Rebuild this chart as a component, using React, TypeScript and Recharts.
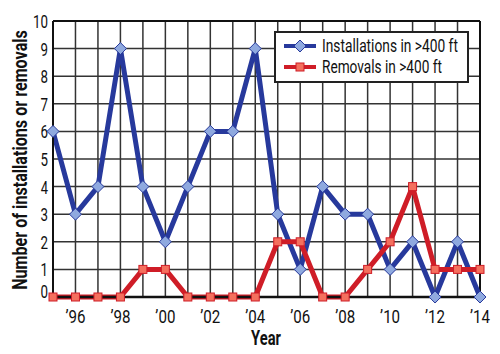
import { useLayoutEffect, useRef, useState } from "react";
import { LineChart, Line, XAxis, YAxis, CartesianGrid, ReferenceLine } from "recharts";

const years = [1995, 1996, 1997, 1998, 1999, 2000, 2001, 2002, 2003, 2004, 2005, 2006, 2007, 2008, 2009, 2010, 2011, 2012, 2013, 2014];
const installations = [6, 3, 4, 9, 4, 2, 4, 6, 6, 9, 3, 1, 4, 3, 3, 1, 2, 0, 2, 0];
const removals = [0, 0, 0, 0, 1, 1, 0, 0, 0, 0, 2, 2, 0, 0, 1, 2, 4, 1, 1, 1];
const yTicks = [0, 1, 2, 3, 4, 5, 6, 7, 8, 9, 10];

const data = years.map((y, i) => ({ year: y, inst: installations[i], rem: removals[i] }));

const FONT = "Roboto, 'Noto Sans', sans-serif";
const BLUE = "#27399c";
const BLUE_FILL = "#8fa9df";
const RED = "#cf1d27";
const RED_FILL = "#f4705e";

// no condensed face installed: measure the text and squeeze it horizontally to the given width
function Squeeze({ x, y, width, anchor = "start", rotate = 0, children, ...rest }: any) {
  const ref = useRef<SVGTextElement>(null);
  const [k, setK] = useState(1);
  useLayoutEffect(() => {
    const w = ref.current?.getBBox().width;
    if (w) setK(width / w);
  }, [width, children]);
  return (
    <g transform={`translate(${x},${y}) rotate(${rotate}) scale(${k},1)`}>
      <text ref={ref} x={0} y={0} textAnchor={anchor} fontFamily={FONT} fill="#111" {...rest}>
        {children}
      </text>
    </g>
  );
}

function Diamond({ cx, cy, size = 6 }: any) {
  if (cx == null || cy == null) return null;
  const s = size;
  return (
    <path
      d={`M${cx},${cy - s} L${cx + s},${cy} L${cx},${cy + s} L${cx - s},${cy} Z`}
      fill={BLUE_FILL}
      stroke={BLUE}
      strokeWidth={1}
    />
  );
}

function Square({ cx, cy, size = 4 }: any) {
  if (cx == null || cy == null) return null;
  return (
    <rect x={cx - size} y={cy - size} width={size * 2} height={size * 2} fill={RED_FILL} stroke={RED} strokeWidth={1} />
  );
}

function LegendBox() {
  return (
    <svg width={196} height={53} style={{ display: "block" }}>
      <rect x={1} y={1} width={193} height={50} fill="#fff" stroke="#222" strokeWidth={2} />
      <line x1={10} y1={15} x2={42} y2={15} stroke={BLUE} strokeWidth={4} />
      <Diamond cx={26} cy={15} size={6} />
      <Squeeze x={48} y={20.5} width={136} fontSize={18.5}>
        Installations in &gt;400 ft
      </Squeeze>
      <line x1={10} y1={36} x2={42} y2={36} stroke={RED} strokeWidth={4} />
      <Square cx={26} cy={36} size={4} />
      <Squeeze x={48} y={42} width={120} fontSize={18.5}>
        Removals in &gt;400 ft
      </Squeeze>
    </svg>
  );
}

function XTick({ x, payload }: any) {
  const v = payload.value as number;
  if (v % 2 !== 0) return null;
  return (
    <Squeeze x={x} y={323} width={20} anchor="middle" fontSize={18}>
      {`\u2019${String(v).slice(2)}`}
    </Squeeze>
  );
}

function YTick({ y, payload }: any) {
  const s = String(payload.value);
  const dy = payload.value === 0 ? 1 : 7;
  return (
    <Squeeze x={48} y={y + dy} width={s.length * 7.5} anchor="end" fontSize={19}>
      {s}
    </Squeeze>
  );
}

function YTitle() {
  return (
    <Squeeze x={27} y={160} rotate={-90} width={260} anchor="middle" fontSize={20} fontWeight="bold">
      Number of installations or removals
    </Squeeze>
  );
}

function XTitle() {
  return (
    <Squeeze x={266} y={345} width={30} anchor="middle" fontSize={21} fontWeight="bold">
      Year
    </Squeeze>
  );
}

export default function App() {
  return (
    <div style={{ position: "relative", width: 500, height: 354, background: "#fff" }}>
      <style>{`body{margin:0}`}</style>
      <LineChart width={500} height={354} data={data} margin={{ top: 21, right: 20, left: 0, bottom: 0 }}>
        <CartesianGrid stroke="#333" strokeWidth={1.5} />
        <XAxis
          dataKey="year"
          interval={0}
          height={57}
          tickLine={false}
          axisLine={{ stroke: "#111", strokeWidth: 2.5 }}
          tick={<XTick />}
          label={<XTitle />}
        />
        <YAxis
          width={53}
          domain={[0, 10]}
          ticks={yTicks}
          interval={0}
          tickLine={false}
          axisLine={{ stroke: "#111", strokeWidth: 2 }}
          tick={<YTick />}
          label={<YTitle />}
        />
        <ReferenceLine y={10} stroke="#111" strokeWidth={2} />
        <ReferenceLine x={2014} stroke="#111" strokeWidth={2} />
        <Line
          dataKey="inst"
          stroke={BLUE}
          strokeWidth={5}
          strokeLinejoin="round"
          dot={<Diamond />}
          activeDot={false}
          isAnimationActive={false}
        />
        <Line
          dataKey="rem"
          stroke={RED}
          strokeWidth={5}
          strokeLinejoin="round"
          dot={<Square />}
          activeDot={false}
          isAnimationActive={false}
        />
      </LineChart>
      <div style={{ position: "absolute", top: 31, left: 274 }}>
        <LegendBox />
      </div>
    </div>
  );
}
